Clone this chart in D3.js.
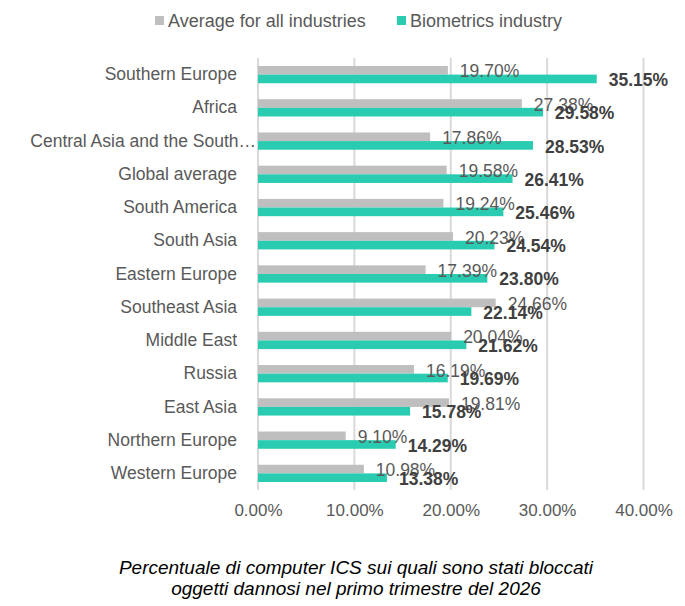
<!DOCTYPE html>
<html>
<head>
<meta charset="utf-8">
<script src="https://cdn.jsdelivr.net/npm/d3@7"></script>
<style>
  body { margin: 0; background: #fff; }
  svg text { font-family: "Liberation Sans", Arial, sans-serif; }
</style>
</head>
<body>
<svg id="chart" width="685" height="606"></svg>
<script>
// values (percent)
var regions = ["Southern Europe", "Africa", "Central Asia and the South\u2026", "Global average",
  "South America", "South Asia", "Eastern Europe", "Southeast Asia", "Middle East",
  "Russia", "East Asia", "Northern Europe", "Western Europe"];
var allIndustries = [19.70, 27.38, 17.86, 19.58, 19.24, 20.23, 17.39, 24.66, 20.04, 16.19, 19.81, 9.10, 10.98];
var biometrics = [35.15, 29.58, 28.53, 26.41, 25.46, 24.54, 23.80, 22.14, 21.62, 19.69, 15.78, 14.29, 13.38];
var seriesNames = ["Average for all industries", "Biometrics industry"];
var xTicks = [0, 10, 20, 30, 40];
var titleLines = ["Percentuale di computer ICS sui quali sono stati bloccati",
  "oggetti dannosi nel primo trimestre del 2026"];

var colors = ["#bfbfbf", "#29ccb1"];

var svg = d3.select("#chart"),
  plot = { left: 258, right: 643.5, top: 58, bottom: 490 };

var rows = regions.map(function(r, i) {
  return { name: r, values: [allIndustries[i], biometrics[i]] };
});

var x = d3.scaleLinear().domain([0, 40]).range([plot.left, plot.right]);
var y0 = d3.scaleBand().domain(regions).range([plot.top, plot.bottom])
  .paddingInner(0.48).paddingOuter(0.24);
var y1 = d3.scaleBand().domain([0, 1]).range([0, y0.bandwidth()]);

// gridlines
svg.append("g")
  .attr("class", "grid")
  .selectAll("line")
  .data(xTicks)
  .enter().append("line")
  .attr("x1", function(d) { return x(d); })
  .attr("x2", function(d) { return x(d); })
  .attr("y1", plot.top)
  .attr("y2", plot.bottom)
  .attr("stroke", "#d9d9d9")
  .attr("stroke-width", 2);

// x axis labels
var xAxis = d3.axisBottom(x)
  .tickValues(xTicks)
  .tickSize(0)
  .tickPadding(14)
  .tickFormat(function(d) { return d3.format(".2f")(d) + "%"; });

svg.append("g")
  .attr("class", "axis axis--x")
  .attr("transform", "translate(0," + plot.bottom + ")")
  .call(xAxis)
  .call(function(g) { g.select(".domain").remove(); })
  .selectAll("text")
  .attr("font-size", 17)
  .attr("font-family", "Liberation Sans, Arial, sans-serif")
  .attr("fill", "#595959");

// y axis labels (excel lets the truncated label run up to the axis)
var yAxis = d3.axisLeft(y0).tickSize(0).tickPadding(21);
svg.append("g")
  .attr("class", "axis axis--y")
  .attr("transform", "translate(" + plot.left + ",0)")
  .call(yAxis)
  .call(function(g) { g.select(".domain").remove(); })
  .selectAll("text")
  .attr("x", function(d) { return d.slice(-1) === "\u2026" ? -2 : -21; })
  .attr("font-size", 17.5)
  .attr("font-family", "Liberation Sans, Arial, sans-serif")
  .attr("fill", "#595959");

// bars
var groups = svg.append("g")
  .selectAll("g")
  .data(rows)
  .enter().append("g")
  .attr("transform", function(d) { return "translate(0," + y0(d.name) + ")"; });

groups.selectAll("rect")
  .data(function(d) { return d.values; })
  .enter().append("rect")
  .attr("x", x(0))
  .attr("y", function(d, i) { return y1(i); })
  .attr("width", function(d) { return x(d) - x(0); })
  .attr("height", y1.bandwidth())
  .attr("fill", function(d, i) { return colors[i]; });

groups.selectAll("text")
  .data(function(d) { return d.values; })
  .enter().append("text")
  .attr("x", function(d) { return x(d) + 12; })
  .attr("y", function(d, i) { return y1(i) + y1.bandwidth() / 2 + 1; })
  .attr("dy", "0.35em")
  .attr("font-size", 17.5)
  .attr("font-weight", function(d, i) { return i === 1 ? "bold" : "normal"; })
  .attr("fill", function(d, i) { return i === 1 ? "#404040" : "#595959"; })
  .text(function(d) { return d3.format(".2f")(d) + "%"; });

// legend
var legendX = [155, 397];
var legend = svg.append("g")
  .selectAll("g")
  .data(seriesNames)
  .enter().append("g")
  .attr("transform", function(d, i) { return "translate(" + legendX[i] + ",16)"; });

legend.append("rect")
  .attr("width", 9)
  .attr("height", 9)
  .attr("fill", function(d, i) { return colors[i]; });

legend.append("text")
  .attr("x", 13)
  .attr("y", 4.5)
  .attr("dy", "0.35em")
  .attr("font-size", 18)
  .attr("fill", "#595959")
  .text(function(d) { return d; });

// title below the chart
svg.append("g")
  .selectAll("text")
  .data(titleLines)
  .enter().append("text")
  .attr("x", 356)
  .attr("y", function(d, i) { return 573.5 + i * 21; })
  .attr("text-anchor", "middle")
  .attr("font-family", "DejaVu Sans, sans-serif")
  .attr("font-style", "italic")
  .attr("font-size", 19)
  .attr("fill", "#000")
  .text(function(d) { return d; });
</script>
</body>
</html>
